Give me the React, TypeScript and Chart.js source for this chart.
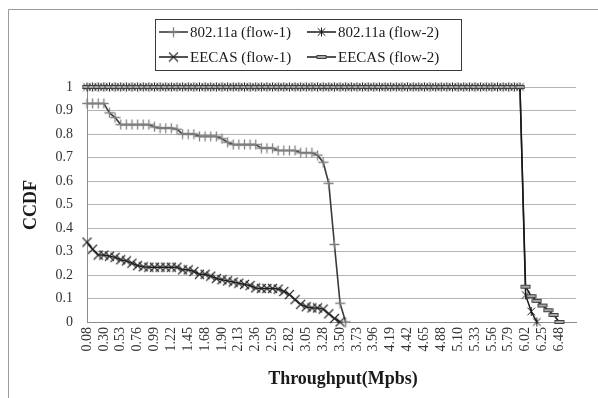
import { useEffect, useRef } from 'react';
import { Chart, registerables } from 'chart.js';

Chart.register(...registerables);

// ---- data ----
const categories = ['0.08','0.15','0.23','0.30','0.38','0.46','0.53','0.61','0.68','0.76','0.84','0.91','0.99','1.07','1.14','1.22','1.29','1.37','1.45','1.52','1.60','1.68','1.75','1.83','1.90','1.98','2.06','2.13','2.21','2.28','2.36','2.44','2.51','2.59','2.67','2.74','2.82','2.89','2.97','3.05','3.12','3.20','3.28','3.35','3.43','3.50','3.58','3.66','3.73','3.81','3.88','3.96','4.04','4.11','4.19','4.27','4.34','4.42','4.49','4.57','4.65','4.72','4.80','4.88','4.95','5.03','5.10','5.18','5.26','5.33','5.41','5.48','5.56','5.64','5.71','5.79','5.87','5.94','6.02','6.09','6.17','6.25','6.32','6.40','6.48','6.55','6.63','6.71'];

const shownTicks = ['0.08','0.30','0.53','0.76','0.99','1.22','1.45','1.68','1.90','2.13','2.36','2.59','2.82','3.05','3.28','3.50','3.73','3.96','4.19','4.42','4.65','4.88','5.10','5.33','5.56','5.79','6.02','6.25','6.48'];

const seriesNames = ['802.11a (flow-1)', '802.11a (flow-2)', 'EECAS (flow-1)', 'EECAS (flow-2)'];

const wifiFlow1 = [0.93,0.93,0.93,0.93,0.89,0.87,0.84,0.84,0.84,0.84,0.84,0.84,0.83,0.825,0.825,0.825,0.82,0.80,0.80,0.80,0.79,0.79,0.79,0.79,0.78,0.765,0.755,0.755,0.755,0.755,0.755,0.74,0.74,0.74,0.73,0.73,0.73,0.73,0.72,0.72,0.72,0.71,0.68,0.59,0.33,0.08,0];

const wifiFlow2 = [1,1,1,1,1,1,1,1,1,1,1,1,1,1,1,1,1,1,1,1,1,1,1,1,1,1,1,1,1,1,1,1,1,1,1,1,1,1,1,1,1,1,1,1,1,1,1,1,1,1,1,1,1,1,1,1,1,1,1,1,1,1,1,1,1,1,1,1,1,1,1,1,1,1,1,1,1,1,0.115,0.045,0];

const eecasFlow1 = [0.34,0.31,0.285,0.285,0.28,0.275,0.265,0.26,0.25,0.24,0.235,0.233,0.233,0.233,0.233,0.233,0.233,0.222,0.222,0.215,0.203,0.203,0.195,0.185,0.18,0.175,0.17,0.165,0.16,0.155,0.145,0.143,0.143,0.143,0.14,0.13,0.117,0.095,0.075,0.065,0.06,0.06,0.055,0.035,0.015,0];

const eecasFlow2 = [1,1,1,1,1,1,1,1,1,1,1,1,1,1,1,1,1,1,1,1,1,1,1,1,1,1,1,1,1,1,1,1,1,1,1,1,1,1,1,1,1,1,1,1,1,1,1,1,1,1,1,1,1,1,1,1,1,1,1,1,1,1,1,1,1,1,1,1,1,1,1,1,1,1,1,1,1,1,0.15,0.11,0.09,0.07,0.05,0.03,0];

// ---- layout (page pixels; canvas covers the whole window) ----
const W = 598;
const H = 398;
const PLOT = { left: 87, top: 87, right: 597, bottom: 322 };
const FONT = '"Liberation Serif", "Times New Roman", serif';

function makeMarker(kind: string): HTMLCanvasElement {
  const c = document.createElement('canvas');
  const w = 11;
  const h = kind === 'dash' ? 6 : 11;
  c.width = w;
  c.height = h;
  const g = c.getContext('2d') as CanvasRenderingContext2D;
  const cx = w / 2, cy = h / 2;
  g.lineCap = 'butt';
  if (kind === 'plus') {
    g.strokeStyle = '#808080';
    g.lineWidth = 1.3;
    g.beginPath();
    g.moveTo(cx - 5, cy); g.lineTo(cx + 5, cy);
    g.moveTo(cx, cy - 5); g.lineTo(cx, cy + 5);
    g.stroke();
  } else if (kind === 'star') {
    g.strokeStyle = '#1a1a1a';
    g.lineWidth = 1;
    g.beginPath();
    g.moveTo(cx - 3.8, cy - 3.8); g.lineTo(cx + 3.8, cy + 3.8);
    g.moveTo(cx + 3.8, cy - 3.8); g.lineTo(cx - 3.8, cy + 3.8);
    g.moveTo(cx, cy - 4.5); g.lineTo(cx, cy + 4.5);
    g.stroke();
  } else if (kind === 'x') {
    g.strokeStyle = '#262626';
    g.lineWidth = 1.1;
    g.beginPath();
    g.moveTo(cx - 4.5, cy - 4.5); g.lineTo(cx + 4.5, cy + 4.5);
    g.moveTo(cx + 4.5, cy - 4.5); g.lineTo(cx - 4.5, cy + 4.5);
    g.stroke();
  } else {
    g.fillStyle = '#a6a6a6';
    g.strokeStyle = '#404040';
    g.lineWidth = 1;
    g.fillRect(1, 1.5, 9, 3);
    g.strokeRect(1, 1.5, 9, 3);
  }
  return c;
}

export default function App() {
  const ref = useRef<HTMLCanvasElement | null>(null);

  useEffect(() => {
    const markers = {
      plus: makeMarker('plus'),
      star: makeMarker('star'),
      x: makeMarker('x'),
      dash: makeMarker('dash'),
    };
    const styles = [
      { data: wifiFlow1, color: '#3a3a3a', width: 1.6, marker: markers.plus },
      { data: wifiFlow2, color: '#1a1a1a', width: 1.5, marker: markers.star },
      { data: eecasFlow1, color: '#1a1a1a', width: 1.5, marker: markers.x },
      { data: eecasFlow2, color: '#1a1a1a', width: 1.5, marker: markers.dash },
    ];

    const deco = {
      id: 'deco',
      afterDraw(chart: any) {
        const ctx = chart.ctx as CanvasRenderingContext2D;
        ctx.save();
        // chart-area border (top & left visible in the crop)
        ctx.strokeStyle = '#9a9a9a';
        ctx.lineWidth = 1;
        ctx.beginPath();
        ctx.moveTo(8.5, H);
        ctx.lineTo(8.5, 9.5);
        ctx.lineTo(W, 9.5);
        ctx.stroke();

        // legend
        const bx = 155, by = 19, bw = 306, bh = 51;
        ctx.strokeStyle = '#3a3a3a';
        ctx.strokeRect(bx + 0.5, by + 0.5, bw, bh);
        const cols = [159, 307];
        const rows = [32, 57];
        ctx.font = `15px ${FONT}`;
        ctx.textBaseline = 'middle';
        ctx.textAlign = 'left';
        styles.forEach((s, i) => {
          const x0 = cols[i % 2];
          const y0 = rows[Math.floor(i / 2)];
          ctx.strokeStyle = s.color;
          ctx.lineWidth = s.width;
          ctx.beginPath();
          ctx.moveTo(x0, y0);
          ctx.lineTo(x0 + 29, y0);
          ctx.stroke();
          const m = s.marker;
          ctx.drawImage(m, x0 + 14.5 - m.width / 2, y0 - m.height / 2);
          ctx.fillStyle = '#1a1a1a';
          ctx.fillText(seriesNames[i], x0 + 31, y0 + 1);
        });

        // axis titles
        ctx.fillStyle = '#1a1a1a';
        ctx.font = `bold 18px ${FONT}`;
        ctx.textAlign = 'center';
        ctx.textBaseline = 'middle';
        ctx.fillText('Throughput(Mpbs)', 343, 379);
        ctx.translate(31, 205);
        ctx.rotate(-Math.PI / 2);
        ctx.fillText('CCDF', 0, 0);
        ctx.restore();
      },
    };

    const chart = new Chart(ref.current as HTMLCanvasElement, {
      type: 'line',
      data: {
        labels: categories,
        datasets: styles.map((s, i) => ({
          label: seriesNames[i],
          data: s.data,
          borderColor: s.color,
          borderWidth: s.width,
          backgroundColor: s.color,
          pointStyle: s.marker as any,
          pointRadius: 5,
          pointHoverRadius: 5,
          tension: 0,
          fill: false,
          clip: false as any,
          order: 4 - i,
        })),
      },
      options: {
        responsive: false,
        animation: false,
        devicePixelRatio: 1,
        layout: { padding: { top: PLOT.top, left: 0, right: W - PLOT.right, bottom: 0 } },
        plugins: {
          legend: { display: false },
          tooltip: { enabled: false },
        },
        scales: {
          x: {
            type: 'category',
            offset: false,
            grid: { display: false, drawTicks: false },
            border: { display: true, color: '#8c8c8c', width: 1 },
            ticks: {
              autoSkip: false,
              maxRotation: 90,
              minRotation: 90,
              padding: 5,
              color: '#333333',
              font: { family: FONT, size: 14 },
              callback: (_v: any, idx: number) =>
                shownTicks.includes(categories[idx]) ? categories[idx] : '',
            },
            afterFit: (scale: any) => {
              scale.height = H - PLOT.bottom;
            },
          },
          y: {
            min: 0,
            max: 1,
            grid: { color: '#b4b4b4', lineWidth: 1, drawTicks: false },
            border: { display: true, color: '#8c8c8c', width: 1 },
            ticks: {
              stepSize: 0.1,
              padding: 14,
              color: '#333333',
              font: { family: FONT, size: 14 },
              callback: (v: any) => String(Math.round(Number(v) * 10) / 10),
            },
            afterFit: (scale: any) => {
              scale.width = PLOT.left;
            },
          },
        },
      },
      plugins: [deco],
    });
    return () => chart.destroy();
  }, []);

  return (
    <canvas
      ref={ref}
      width={W}
      height={H}
      style={{ display: 'block', position: 'absolute', left: 0, top: 0 }}
    />
  );
}
